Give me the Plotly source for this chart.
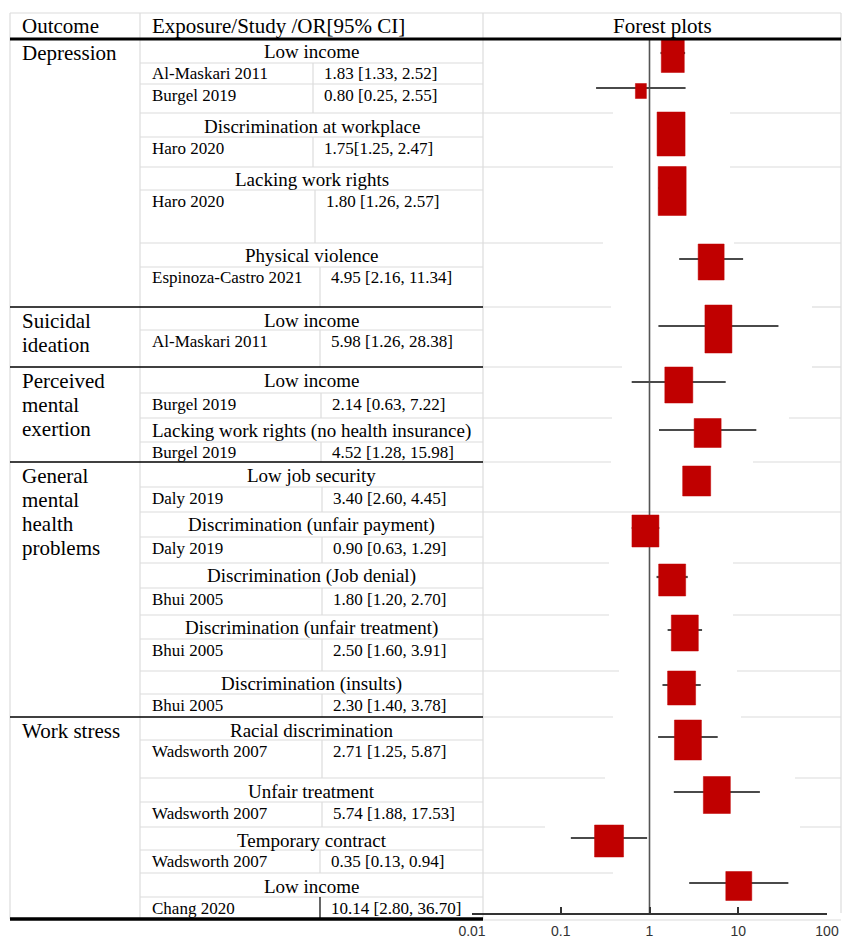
import textwrap
import plotly.graph_objects as go

# ---- data -------------------------------------------------------------
outcomes = [
    "Depression", "Depression", "Depression", "Depression", "Depression",
    "Suicidal ideation",
    "Perceived mental exertion", "Perceived mental exertion",
    "General mental health problems", "General mental health problems",
    "General mental health problems", "General mental health problems",
    "General mental health problems",
    "Work stress", "Work stress", "Work stress", "Work stress",
]
exposures = [
    "Low income", "Low income", "Discrimination at workplace",
    "Lacking work rights", "Physical violence",
    "Low income",
    "Low income", "Lacking work rights (no health insurance)",
    "Low job security", "Discrimination (unfair payment)",
    "Discrimination (Job denial)", "Discrimination (unfair treatment)",
    "Discrimination (insults)",
    "Racial discrimination", "Unfair treatment", "Temporary contract",
    "Low income",
]
studies = [
    "Al-Maskari 2011", "Burgel 2019", "Haro 2020", "Haro 2020",
    "Espinoza-Castro 2021",
    "Al-Maskari 2011",
    "Burgel 2019", "Burgel 2019",
    "Daly 2019", "Daly 2019", "Bhui 2005", "Bhui 2005", "Bhui 2005",
    "Wadsworth 2007", "Wadsworth 2007", "Wadsworth 2007", "Chang 2020",
]
odds_ratio = [1.83, 0.80, 1.75, 1.80, 4.95, 5.98, 2.14, 4.52, 3.40, 0.90,
              1.80, 2.50, 2.30, 2.71, 5.74, 0.35, 10.14]
ci_low = [1.33, 0.25, 1.25, 1.26, 2.16, 1.26, 0.63, 1.28, 2.60, 0.63,
          1.20, 1.60, 1.40, 1.25, 1.88, 0.13, 2.80]
ci_high = [2.52, 2.55, 2.47, 2.57, 11.34, 28.38, 7.22, 15.98, 4.45, 1.29,
           2.70, 3.91, 3.78, 5.87, 17.53, 0.94, 36.70]
label_gap = [" ", " ", "", " ", " ", " ", " ", " ", " ", " ", " ", " ", " ",
             " ", " ", " ", " "]

tick_values = [0.01, 0.1, 1, 10, 100]
tick_labels = ["0.01", "0.1", "1", "10", "100"]

# ---- table geometry (pixels) -------------------------------------------
W, H = 842, 940
TABLE_TOP, HEAD_BOTTOM, TABLE_BOTTOM = 13, 39, 919
X_LEFT, X_EXPO, X_PLOT, X_RIGHT = 10, 140, 483, 841
AXIS_Y = 913
PLOT_X0, PLOT_X1 = 472, 827
PX_PER_DECADE = (PLOT_X1 - PLOT_X0) / 4.0

header_h = [24, 0, 24, 23, 24, 23, 26, 24, 25, 25, 25, 24, 23, 23, 24, 23, 24]
study_h = [21, 29, 30, 53, 40, 37, 25, 20, 25, 26, 27, 32, 23, 38, 25, 23, 21]
divider_x = [313, 313, 313, 315, 320, 320, 321, 321, 322, 322, 322, 322, 322,
             322, 322, 320, 320]
lane_offset = [14, 4, 18, 21, 16, 19, 15, 12, 16, 16, 14, 15, 14, 20, 14, 11, 10]
box_w = [23, 11, 28, 28, 26, 27, 28, 27, 28, 27, 27, 27, 28, 27, 27, 29, 26]
box_h = [33, 15, 44, 49, 36, 48, 36, 29, 30, 32, 32, 36, 34, 40, 37, 32, 29]
plot_gap = [None, None, (613, 730), (613, 730), (603, 734), (611, 812),
            (622, 812), (612, 789), (611, 753), None, (609, 733), (609, 733),
            (619, 737), (613, 741), (605, 795), (545, 800), (613, 841)]

GRID = "#dcdcdc"
BOX_RED = "#c00000"
SERIF = "Liberation Serif"

n = len(studies)
block_top, study_top, study_bottom = [], [], []
y = HEAD_BOTTOM
for hh, sh in zip(header_h, study_h):
    block_top.append(y)
    study_top.append(y + hh)
    y += hh + sh
    study_bottom.append(y)

new_group = [i == 0 or outcomes[i] != outcomes[i - 1] for i in range(n)]
new_block = [i == 0 or (outcomes[i], exposures[i]) != (outcomes[i - 1], exposures[i - 1])
             for i in range(n)]


def px(x):
    return x / W


def py(y):
    return 1 - y / H


shapes = []
annotations = []


def hline(y, x0, x1, color=GRID, width=1.2):
    shapes.append(dict(type="line", xref="paper", yref="paper", layer="below",
                       x0=px(x0), x1=px(x1), y0=py(y), y1=py(y),
                       line=dict(color=color, width=width)))


def vline(x, y0, y1, color=GRID, width=1.2):
    shapes.append(dict(type="line", xref="paper", yref="paper", layer="below",
                       x0=px(x), x1=px(x), y0=py(y0), y1=py(y1),
                       line=dict(color=color, width=width)))


def text(s, x, y, size, anchor="left"):
    annotations.append(dict(text=s, x=px(x), y=py(y), xref="paper", yref="paper",
                            xanchor=anchor, yanchor="middle", showarrow=False,
                            font=dict(family=SERIF, size=size, color="#000")))


# outer frame and column borders
hline(TABLE_TOP, X_LEFT, X_RIGHT)
for x in (X_LEFT, X_EXPO, X_PLOT):
    vline(x, TABLE_TOP, TABLE_BOTTOM)
vline(X_RIGHT, TABLE_TOP, AXIS_Y)
hline(TABLE_BOTTOM + 1, X_PLOT, X_RIGHT)

# header row
text("Outcome", 20, 26, 21)
text("Exposure/Study /OR[95% CI]", 150, 26, 21)
text("Forest plots", (X_PLOT + X_RIGHT) / 2, 26, 21, anchor="center")

for i in range(n):
    # horizontal rules of the table body
    if i > 0 and not new_group[i]:
        hline(block_top[i], X_EXPO, X_PLOT)
    if header_h[i] > 0:
        hline(study_top[i], X_EXPO, X_PLOT)
    if i > 0 and new_block[i]:
        gap = plot_gap[i]
        if gap is None:
            hline(block_top[i], X_PLOT, X_RIGHT)
        else:
            hline(block_top[i], X_PLOT, gap[0])
            if gap[1] < X_RIGHT:
                hline(block_top[i], gap[1], X_RIGHT)

    # divider between study name and estimate
    last = i == n - 1
    vline(divider_x[i], study_top[i], study_bottom[i],
          color="#000" if last else GRID, width=1.2)

    # outcome labels
    if new_group[i]:
        for k, line in enumerate(textwrap.wrap(outcomes[i], 11, break_long_words=False)):
            text(line, 20, block_top[i] + 14 + 24 * k, 21)

    # exposure sub-header
    if header_h[i] > 0 and new_block[i]:
        text(exposures[i], (X_EXPO + X_PLOT) / 2, block_top[i] + 13, 19, anchor="center")

    # study and estimate
    label = f"{odds_ratio[i]:.2f}{label_gap[i]}[{ci_low[i]:.2f}, {ci_high[i]:.2f}]"
    text(studies[i], 150, study_top[i] + 11, 17)
    text(label, divider_x[i] + 9, study_top[i] + 11, 17)

# black rules between outcome groups
for i in range(1, n):
    if new_group[i]:
        shapes.append(dict(type="line", xref="paper", yref="paper",
                           x0=px(X_LEFT), x1=px(X_PLOT), y0=py(block_top[i]),
                           y1=py(block_top[i]), line=dict(color="#000", width=1.6)))

# thick header and bottom rules
shapes.append(dict(type="line", xref="paper", yref="paper",
                   x0=px(X_LEFT), x1=px(X_RIGHT), y0=py(HEAD_BOTTOM), y1=py(HEAD_BOTTOM),
                   line=dict(color="#000", width=3)))
shapes.append(dict(type="line", xref="paper", yref="paper",
                   x0=px(X_LEFT), x1=px(X_PLOT), y0=py(TABLE_BOTTOM), y1=py(TABLE_BOTTOM),
                   line=dict(color="#000", width=3.5)))

# ---- forest plot --------------------------------------------------------
fig = go.Figure()

lane_y = [block_top[i] + lane_offset[i] for i in range(n)]

# line of no effect
fig.add_trace(go.Scatter(x=[1, 1], y=[HEAD_BOTTOM, AXIS_Y], mode="lines",
                         line=dict(color="#555555", width=1.6), hoverinfo="skip"))

# confidence intervals
ci_x, ci_y = [], []
for i in range(n):
    ci_x += [ci_low[i], ci_high[i], None]
    ci_y += [lane_y[i], lane_y[i], None]
fig.add_trace(go.Scatter(x=ci_x, y=ci_y, mode="lines",
                         line=dict(color="#4a4a4a", width=2.2), hoverinfo="skip"))

# point estimates as weighted boxes
for i in range(n):
    half = (box_w[i] / 2) / PX_PER_DECADE
    xa, xb = odds_ratio[i] * 10 ** (-half), odds_ratio[i] * 10 ** half
    yc = lane_y[i] + 3
    ya, yb = yc - box_h[i] / 2, yc + box_h[i] / 2
    fig.add_trace(go.Scatter(x=[xa, xb, xb, xa, xa], y=[ya, ya, yb, yb, ya],
                             mode="lines", fill="toself", fillcolor=BOX_RED,
                             line=dict(color=BOX_RED, width=0.5),
                             name=studies[i], hoverinfo="skip"))

fig.update_layout(
    width=W, height=H, autosize=False,
    margin=dict(l=0, r=0, t=0, b=0, pad=0, autoexpand=False),
    paper_bgcolor="white", plot_bgcolor="rgba(0,0,0,0)",
    showlegend=False,
    shapes=shapes, annotations=annotations,
    xaxis=dict(type="log", range=[-2, 2], domain=[px(PLOT_X0), px(PLOT_X1)],
               anchor="y", showgrid=False, zeroline=False, automargin=False,
               showline=True, linecolor="#333333", linewidth=1.5,
               ticks="inside", ticklen=6, tickwidth=1.5, tickcolor="#333333",
               tickvals=tick_values, ticktext=tick_labels,
               ticklabelstandoff=4,
               tickfont=dict(family="Liberation Sans", size=14, color="#333333")),
    yaxis=dict(domain=[py(AXIS_Y), py(HEAD_BOTTOM)], range=[AXIS_Y, HEAD_BOTTOM],
               visible=False, fixedrange=True, automargin=False),
)

fig.write_html("out.html", config={"displayModeBar": False})
